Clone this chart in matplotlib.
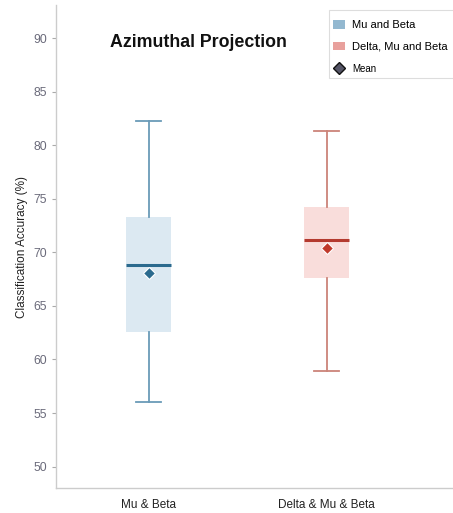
import matplotlib
matplotlib.use("Agg")
import matplotlib.pyplot as plt
from matplotlib.patches import Patch, Rectangle
from matplotlib.lines import Line2D

categories = ["Mu & Beta", "Delta & Mu & Beta"]
legend_labels = ["Mu and Beta", "Delta, Mu and Beta"]
whislo = [56.0, 58.9]
q1 = [62.6, 67.6]
med = [68.8, 71.2]
q3 = [73.3, 74.2]
whishi = [82.3, 81.3]
means = [68.05, 70.4]

fill_colors = ["#dce9f2", "#f9dddb"]
line_colors = ["#6a9bb8", "#cc8479"]
median_colors = ["#2b6a8e", "#b43a2f"]
mean_colors = ["#2b6a8e", "#c0392b"]
legend_colors = ["#93b8d0", "#e8a09c"]

plt.rcParams['font.family'] = ['Liberation Sans', 'DejaVu Sans']

W, H = 453, 513
fig = plt.figure(figsize=(W / 100, H / 100), dpi=100)
ax = fig.add_axes([56/W, 25/H, 1 - 56/W, 1 - 25/H - 5/H])

stats = []
for i in range(len(categories)):
    stats.append(dict(whislo=whislo[i], q1=q1[i], med=med[i], q3=q3[i],
                      whishi=whishi[i], mean=means[i], label=categories[i],
                      fliers=[]))

positions = list(range(len(categories)))
for i, s in enumerate(stats):
    ax.bxp([s], positions=[positions[i]], widths=0.25, patch_artist=True,
           showmeans=False, showfliers=False,
           boxprops=dict(facecolor=fill_colors[i], edgecolor=fill_colors[i], linewidth=0),
           whiskerprops=dict(color=line_colors[i], linewidth=1.3),
           capprops=dict(color=line_colors[i], linewidth=1.3),
           medianprops=dict(color=median_colors[i], linewidth=2.2),
           capwidths=0.14)
    ax.plot(positions[i], means[i], marker='D', markersize=6.5,
            color=mean_colors[i], markeredgecolor='white', markeredgewidth=0.8,
            zorder=5)

ax.set_xticks(positions)
ax.set_xticklabels(categories, fontsize=8.5, color="#222222")
ax.set_xlim(-0.52, 1.71)
ax.set_ylim(48, 93.1)
ax.set_yticks([50, 55, 60, 65, 70, 75, 80, 85, 90])
ax.tick_params(axis='y', labelsize=8.8, labelcolor="#6a6a7a", color="#aaaaaa", length=3)
ax.tick_params(axis='x', length=0, pad=8)
ax.set_ylabel("Classification Accuracy (%)", fontsize=8.5, color="#222222")

for sp in ['top', 'right']:
    ax.spines[sp].set_visible(False)
for sp in ['left', 'bottom']:
    ax.spines[sp].set_color("#cccccc")
    ax.spines[sp].set_linewidth(1.0)

ax.text(0.28, 89.6, "Azimuthal Projection", fontsize=12.8, fontweight='bold',
        ha='center', va='center', color="#111111")

# legend frame drawn separately (partly cut off at the right edge, as in the reference)
frame = Rectangle((329/W, 1 - 78/H), (W + 10 - 329)/W, 68/H, transform=fig.transFigure,
                  facecolor='white', edgecolor='#dddddd', linewidth=0.8, zorder=9)
fig.add_artist(frame)

handles = [Patch(facecolor=legend_colors[0], edgecolor='none', label=legend_labels[0]),
           Patch(facecolor=legend_colors[1], edgecolor='none', label=legend_labels[1]),
           Line2D([0], [0], marker='D', color='none', markerfacecolor='#555566',
                  markeredgecolor='#111111', markersize=6, label='Mean')]
leg = fig.legend(handles=handles, loc='upper left',
                 bbox_to_anchor=(333/W, 1 - 20/H), fontsize=8,
                 frameon=False, handlelength=1.1, handleheight=0.8,
                 borderpad=0.0, borderaxespad=0, labelspacing=1.05, handletextpad=0.6)
leg.set_zorder(10)
leg.get_texts()[2].set_fontsize(7)

fig.savefig("out.png", dpi=100)
